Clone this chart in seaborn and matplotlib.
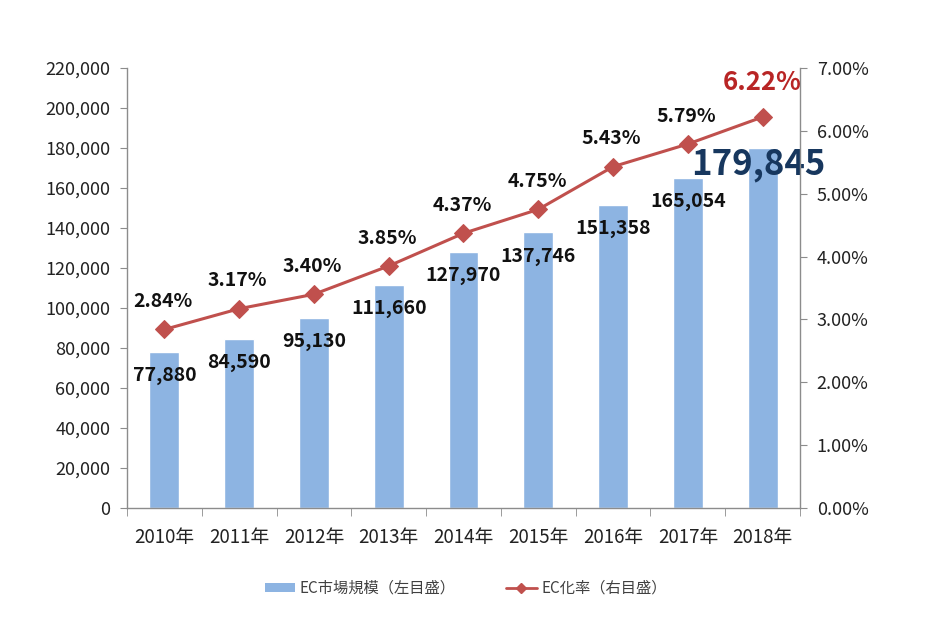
import numpy as np
import pandas as pd
import matplotlib
matplotlib.use("Agg")
import matplotlib.pyplot as plt
from matplotlib.lines import Line2D
from matplotlib.patches import Patch
from matplotlib.ticker import FuncFormatter, MultipleLocator, FixedLocator
import seaborn as sns

# chart data
years = ["2010年", "2011年", "2012年", "2013年", "2014年", "2015年", "2016年", "2017年", "2018年"]
market_size = [77880, 84590, 95130, 111660, 127970, 137746, 151358, 165054, 179845]
ec_rate = [2.84, 3.17, 3.40, 3.85, 4.37, 4.75, 5.43, 5.79, 6.22]
legend_labels = ["EC市場規模（左目盛）", "EC化率（右目盛）"]

BAR_COLOR = "#8DB4E2"
LINE_COLOR = "#C0504D"
SPINE_COLOR = "#8C8C8C"

sns.set_style("white")
plt.rcParams["font.family"] = ["Noto Sans CJK JP", "DejaVu Sans"]

df = pd.DataFrame({"year": years, "size": market_size, "rate": ec_rate})

fig = plt.figure(figsize=(9.37, 6.23), dpi=100)
ax = fig.add_axes([0.1355, 0.1846, 0.7183, 0.7063])

sns.barplot(data=df, x="year", y="size", color=BAR_COLOR, width=0.4,
            saturation=1, ax=ax)
ax.set_xlim(-0.5, len(years) - 0.5)
ax.set_ylim(0, 220000)
ax.yaxis.set_major_locator(MultipleLocator(20000))
ax.yaxis.set_major_formatter(FuncFormatter(lambda v, p: f"{int(v):,}"))
ax.set_xlabel("")
ax.set_ylabel("")

ax2 = ax.twinx()
sns.lineplot(x=np.arange(len(years)), y=df["rate"], color=LINE_COLOR,
             linewidth=2.2, marker="D", markersize=9, markeredgecolor=LINE_COLOR,
             ax=ax2)
ax2.set_ylim(0, 7)
ax2.yaxis.set_major_locator(MultipleLocator(1))
ax2.yaxis.set_major_formatter(FuncFormatter(lambda v, p: f"{v:.2f}%"))
ax2.set_ylabel("")
ax2.set_xlim(-0.5, len(years) - 0.5)

for a in (ax, ax2):
    a.spines["top"].set_visible(False)
    for side in ("left", "right", "bottom"):
        a.spines[side].set_color(SPINE_COLOR)
        a.spines[side].set_linewidth(1.0)
ax.spines["right"].set_visible(False)
ax2.spines["left"].set_visible(False)
ax2.spines["bottom"].set_visible(False)

ax.tick_params(axis="y", which="major", direction="out", length=5,
               color=SPINE_COLOR, labelsize=13, labelcolor="#222222", pad=7, left=True)
ax2.tick_params(axis="y", which="major", direction="out", length=5,
                color=SPINE_COLOR, labelsize=13, labelcolor="#222222", pad=7, right=True)
ax.xaxis.set_minor_locator(FixedLocator(np.arange(-0.5, len(years), 1.0)))
ax.tick_params(axis="x", which="major", length=0, labelsize=13.5,
               labelcolor="#222222", pad=14)
ax.tick_params(axis="x", which="minor", direction="out", length=6,
               color=SPINE_COLOR, bottom=True)

# bar value labels
last = len(years) - 1
for i, v in enumerate(market_size):
    if i == last:
        ax.annotate(f"{v:,}", (i, v), xytext=(-3, -12), textcoords="offset points",
                    ha="center", va="center", fontsize=25, fontweight="bold",
                    color="#17375E", zorder=5)
    else:
        ax.annotate(f"{v:,}", (i, v), xytext=(0, -17), textcoords="offset points",
                    ha="center", va="center", fontsize=14, fontweight="bold",
                    color="#111111")

# rate labels
for i, r in enumerate(ec_rate):
    if i == last:
        ax2.annotate(f"{r:.2f}%", (i, r), xytext=(0, 25), textcoords="offset points",
                     ha="center", va="center", fontsize=18.5, fontweight="bold",
                     color="#B82525")
    else:
        ax2.annotate(f"{r:.2f}%", (i, r), xytext=(-1, 20), textcoords="offset points",
                     ha="center", va="center", fontsize=14, fontweight="bold",
                     color="#111111")

handles = [
    Patch(facecolor=BAR_COLOR, edgecolor="none"),
    Line2D([0], [0], color=LINE_COLOR, linewidth=2, marker="D", markersize=5),
]
fig.legend(handles, legend_labels, loc="center", bbox_to_anchor=(0.497, 0.056),
           ncol=2, frameon=False, fontsize=11, handlelength=2.0,
           handleheight=0.5, handletextpad=0.3, columnspacing=3.3,
           labelcolor="#404040")

fig.savefig("out.png", dpi=100, facecolor="white")
